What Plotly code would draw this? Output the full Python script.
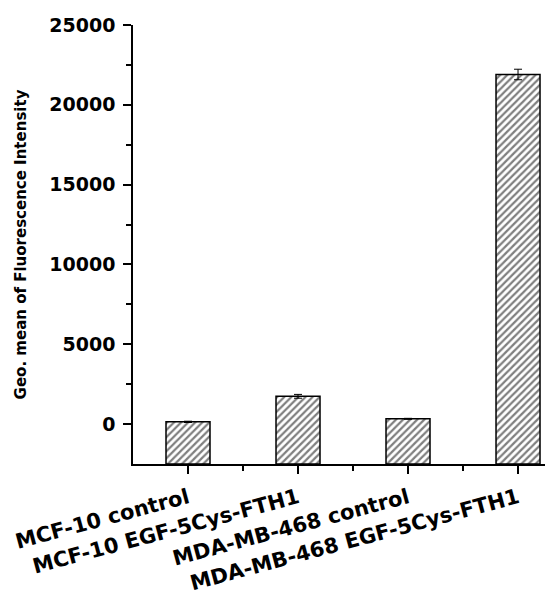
import plotly.graph_objects as go

categories = ["MCF-10 control", "MCF-10 EGF-5Cys-FTH1", "MDA-MB-468 control", "MDA-MB-468 EGF-5Cys-FTH1"]
values = [140, 1740, 330, 21900]
errors = [40, 120, 30, 330]
y_min, y_max = -2500, 25000
ytick_vals = [0, 5000, 10000, 15000, 20000, 25000]
ytick_text = ["0", "5000", "10000", "15000", "20000", "25000"]
yminor_vals = [2500, 7500, 12500, 17500, 22500]

positions = list(range(len(categories)))

fig = go.Figure()
fig.add_trace(go.Bar(
    x=positions, y=[v - y_min for v in values], base=y_min, width=0.4,
    marker=dict(color="white", line=dict(color="black", width=1.5),
                pattern=dict(shape="/", fgcolor="black", bgcolor="white", size=5, solidity=0.45)),
    error_y=dict(type="data", array=errors, color="black", thickness=1, width=4),
    showlegend=False,
))

font_fam = "DejaVu Sans"
fig.update_layout(
    width=545, height=584,
    margin=dict(l=125, r=0, t=17, b=128, autoexpand=False),
    paper_bgcolor="white", plot_bgcolor="white",
    font=dict(family=font_fam, color="black"),
    xaxis=dict(
        range=[-0.5, 3.318], tickmode="array", tickvals=positions, ticktext=categories,
        tickangle=-15, tickfont=dict(family=font_fam, size=21, weight="bold", color="black"),
        showline=True, linecolor="black", linewidth=1.5, ticks="outside", ticklen=8, tickwidth=1.5,
        tickcolor="black", showgrid=False, zeroline=False, automargin=False, ticklabelstandoff=4,
        minor=dict(tickmode="array", tickvals=[p + 0.5 for p in positions[:-1]], ticks="outside", ticklen=5, tickwidth=1.5, tickcolor="black", showgrid=False),
    ),
    yaxis=dict(
        range=[y_min, y_max], tickmode="array", tickvals=ytick_vals, ticktext=ytick_text,
        tickfont=dict(family=font_fam, size=19, weight="bold", color="black"),
        showline=True, linecolor="black", linewidth=1.5, ticks="outside", ticklen=8, tickwidth=1.5,
        tickcolor="black", showgrid=False, zeroline=False, automargin=False, ticklabelstandoff=4,
        minor=dict(tickmode="array", tickvals=yminor_vals, ticks="outside", ticklen=5, tickwidth=1.5, tickcolor="black", showgrid=False),
        title=dict(text="Geo. mean of Fluorescence Intensity", standoff=19,
                   font=dict(family=font_fam, size=15, weight="bold", color="black")),
    ),
)

fig.write_html("out.html")
